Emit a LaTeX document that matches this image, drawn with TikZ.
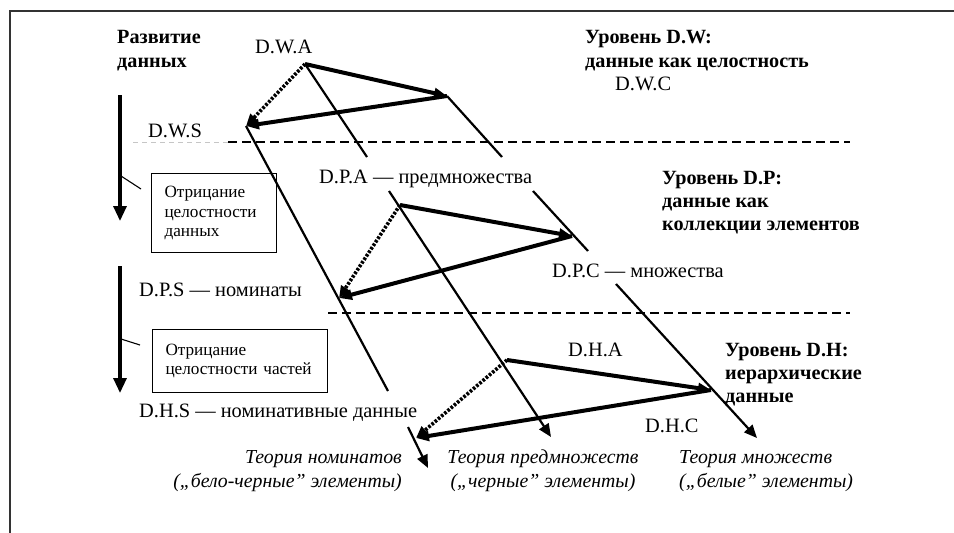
\documentclass[tikz,border=0pt]{standalone}
\usepackage{fontspec}
\setmainfont{Liberation Serif}
\usetikzlibrary{arrows.meta}
\tikzset{
  lbl/.style={inner sep=0pt, anchor=base west, align=left, font=\fontsize{20.4}{23.5}\selectfont},
  blbl/.style={lbl, font=\fontsize{20.2}{23.5}\selectfont\bfseries},
  ilbl/.style={inner sep=0pt, font=\fontsize{19.8}{24}\selectfont\itshape},
  notebox/.style={draw, line width=1pt, anchor=north west, inner xsep=13pt, inner ysep=0pt, align=left, font=\fontsize{17.2}{19.5}\selectfont},
  column/.style={line width=2.2pt},
  colarrow/.style={line width=2.2pt, -{Triangle[length=13pt,width=11pt]}},
  thickarrow/.style={line width=4pt, -{Triangle[length=13pt,width=10pt]}},
  dotarrow/.style={line width=3.6pt, dash pattern=on 2.6pt off 1.6pt, -{Triangle[length=12pt,width=10pt]}},
  levelline/.style={line width=1.9pt, dash pattern=on 9pt off 5pt},
  devarrow/.style={line width=3.2pt, -{Triangle[length=15pt,width=13pt]}},
  tick/.style={line width=1.1pt}
}
\begin{document}
\begin{tikzpicture}[x=1pt,y=-1pt]
\useasboundingbox (0,0) rectangle (954,533);
% frame
\draw[line width=1.3pt, black!80] (10,533) -- (10,11) -- (954,11);

% vertices
\coordinate (WA) at (305,64);
\coordinate (WC) at (447,96);
\coordinate (WS) at (246,126);
\coordinate (PA) at (400,205);
\coordinate (PC) at (572,236);
\coordinate (PS) at (339,298);
\coordinate (HA) at (507,360);
\coordinate (HC) at (711,390);
\coordinate (HS) at (416,438);

% column break points
\coordinate (L1) at (388,391);
\coordinate (L2) at (408,427);
\coordinate (Lend) at (428,468);
\coordinate (M1) at (367,157);
\coordinate (M2) at (389,191);
\coordinate (Mend) at (551,437);
\coordinate (R1) at (502,157);
\coordinate (R2) at (533,191);
\coordinate (R3) at (588,251);
\coordinate (R4) at (616,284);
\coordinate (Rend) at (757,438);

% level separators
\coordinate (D1a) at (133,142);
\coordinate (D1b) at (228,142);
\coordinate (D1c) at (850,142);
\coordinate (D2a) at (328,313);
\coordinate (D2b) at (850,313);
\draw[line width=1pt, gray!45, dash pattern=on 5pt off 4pt] (D1a) -- (D1b);
\draw[levelline] (D1b) -- (D1c);
\draw[levelline] (D2a) -- (D2b);

% columns
\draw[column] (WS) -- (L1);
\draw[colarrow] (L2) -- (Lend);
\draw[column] (WA) -- (M1);
\draw[colarrow] (M2) -- (Mend);
\draw[column] (WC) -- (R1);
\draw[column] (R2) -- (R3);
\draw[colarrow] (R4) -- (Rend);

% level triangles
\draw[thickarrow] (WA) -- (WC);
\draw[thickarrow] (WC) -- (WS);
\draw[dotarrow] (WA) -- (WS);
\draw[thickarrow] (PA) -- (PC);
\draw[thickarrow] (PC) -- (PS);
\draw[dotarrow] (PA) -- (PS);
\draw[thickarrow] (HA) -- (HC);
\draw[thickarrow] (HC) -- (HS);
\draw[dotarrow] (HA) -- (HS);

% development arrows
\coordinate (V1a) at (120,95);
\coordinate (V1b) at (120,221);
\coordinate (V2a) at (120,266);
\coordinate (V2b) at (120,393);
\draw[devarrow] (V1a) -- (V1b);
\draw[devarrow] (V2a) -- (V2b);
\coordinate (T1a) at (121,176);
\coordinate (T1b) at (141,189);
\coordinate (T2a) at (121,339);
\coordinate (T2b) at (140,345);
\draw[tick] (T1a) -- (T1b);
\draw[tick] (T2a) -- (T2b);

\node[notebox, text width=99pt, minimum height=79pt] (box1) at (151,173) {Отрицание\\целостности\\данных};
\node[notebox, text width=149pt, minimum height=63pt] (box2) at (152,329) {Отрицание\\целостности частей};

% labels (base anchor = baseline of the last line)
\node[blbl] (dev) at (117,67) {Развитие\\данных};
\node[lbl] (lWA) at (255,53) {D.W.A};
\node[lbl] (lWC) at (615,90) {D.W.C};
\node[lbl] (lWS) at (148,137) {D.W.S};
\node[lbl] (lPA) at (319,183) {D.P.A — предмножества};
\node[lbl] (lPC) at (552,277) {D.P.C — множества};
\node[lbl] (lPS) at (139,296) {D.P.S — номинаты};
\node[lbl] (lHA) at (568,356) {D.H.A};
\node[lbl] (lHC) at (645,432) {D.H.C};
\node[lbl] (lHS) at (139,417) {D.H.S — номинативные данные};

\node[blbl, font=\fontsize{20.2}{24}\selectfont\bfseries] (levW) at (585,67) {Уровень D.W:\\данные как целостность};
\node[blbl, font=\fontsize{20.2}{23}\selectfont\bfseries] (levP) at (662,230) {Уровень D.P:\\данные как\\коллекции элементов};
\node[blbl, font=\fontsize{20.2}{23}\selectfont\bfseries] (levH) at (725,402) {Уровень D.H:\\иерархические\\данные};

\node[ilbl, anchor=base east, align=right] (thN) at (402,487) {Теория номинатов\\(„бело-черные” элементы)};
\node[ilbl, anchor=base, align=center] (thP) at (543,487) {Теория предмножеств\\(„черные” элементы)};
\node[ilbl, anchor=base west, align=left] (thS) at (679,487) {Теория множеств\\(„белые” элементы)};
\end{tikzpicture}
\end{document}
